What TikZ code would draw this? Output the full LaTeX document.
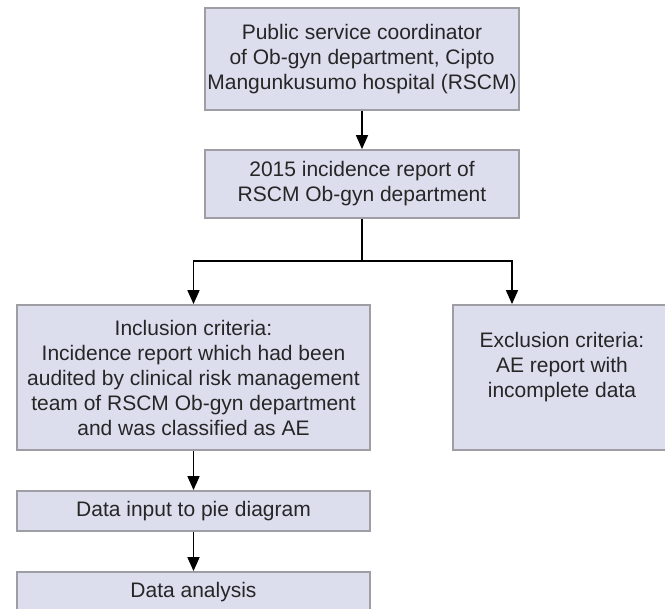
\documentclass[tikz,border=0pt]{standalone}
\usepackage{fontspec}
\setmainfont{Liberation Sans}
\usetikzlibrary{arrows.meta}
\definecolor{boxfill}{RGB}{220,222,238}
\definecolor{boxline}{RGB}{158,158,164}
\definecolor{inktext}{RGB}{38,38,38}
\tikzset{
  flowbox/.style={draw=boxline,line width=1.8pt,fill=boxfill,text=inktext,
    align=center,inner sep=0pt,font=\fontsize{21}{25}\selectfont},
}
\begin{document}
\begin{tikzpicture}[x=1pt,y=-1pt,>={Triangle[length=14pt,width=12pt]},line width=1.6pt]
  \useasboundingbox (0,0) rectangle (665,609);
  \clip (0,0) rectangle (665,609);
  % top of the chart
  \node[flowbox,minimum width=314pt,minimum height=102pt] (coord) at (362,59)
    {Public service coordinator\\of Ob-gyn department, Cipto\\Mangunkusumo hospital (RSCM)};
  \node[flowbox,minimum width=314pt,minimum height=68pt] (report) at (362,184)
    {2015 incidence report of\\RSCM Ob-gyn department};
  % criteria
  \node[flowbox,minimum width=353pt,minimum height=145pt] (incl) at (193.5,377.5)
    {Inclusion criteria:\\Incidence report which had been\\audited by clinical risk management\\team of RSCM Ob-gyn department\\and was classified as AE};
  \node[flowbox,minimum width=218pt,minimum height=145pt] (excl) at (562,377.5)
    {Exclusion criteria:\\AE report with\\incomplete data\\\mbox{}};
  % bottom of the chart
  \node[flowbox,minimum width=353pt,minimum height=40pt] (input) at (193.5,511)
    {Data input to pie diagram};
  \node[flowbox,minimum width=353pt,minimum height=40pt] (analysis) at (193.5,592)
    {Data analysis};
  \coordinate (split) at (362,261);
  \draw[->] (coord) -- (report);
  \draw (report) -- (split);
  \draw[->] (split) -| (incl.north);
  \draw[->] (split) -| ([xshift=-50pt]excl.north);
  \draw[->] (incl) -- (input);
  \draw[->] (input) -- (analysis);
\end{tikzpicture}
\end{document}
